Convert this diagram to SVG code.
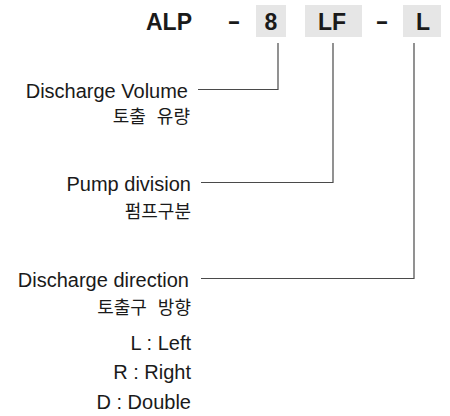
<svg xmlns="http://www.w3.org/2000/svg" width="450" height="416" viewBox="0 0 450 416">
<style>
.hd{font-family:"Liberation Sans",Arial,sans-serif;font-weight:bold;font-size:23px;fill:#1a1a1a}
.box{fill:#e6e6e6}
.en{font-family:"Liberation Sans",Arial,sans-serif;font-size:20px;fill:#1a1a1a;text-anchor:end}
.ko{font-family:"Liberation Sans","Noto Sans CJK KR",sans-serif;font-size:18px;fill:#1a1a1a;text-anchor:end;word-spacing:6px}
.ln{fill:none;stroke:#4a4a4a;stroke-width:1.2}
</style>
<rect width="450" height="416" fill="#fff"/>
<g id="code">
<rect class="box" x="256" y="5" width="30" height="32"/>
<rect class="box" x="305" y="5" width="57" height="32"/>
<rect class="box" x="403" y="5" width="38" height="32"/>
<text class="hd" x="146" y="29.5">ALP</text>
<text class="hd" x="0" y="29.5" text-anchor="middle" transform="translate(234,0) scale(1.7,1)">-</text>
<text class="hd" x="271" y="29.5" text-anchor="middle">8</text>
<text class="hd" x="332" y="29.5" text-anchor="middle">LF</text>
<text class="hd" x="0" y="29.5" text-anchor="middle" transform="translate(382,0) scale(1.7,1)">-</text>
<text class="hd" x="423" y="29.5" text-anchor="middle">L</text>
</g>
<g id="connectors">
<path class="ln" d="M278,43 V89.5 H198"/>
<path class="ln" d="M333,43 V182.5 H201"/>
<path class="ln" d="M414,43 V278.5 H201"/>
</g>
<g id="volume">
<text class="en" x="188" y="97.5">Discharge Volume</text>
<text class="ko" x="190" y="123">토출 유량</text>
</g>
<g id="division">
<text class="en" x="191" y="191">Pump division</text>
<text class="ko" x="191" y="218">펌프구분</text>
</g>
<g id="direction">
<text class="en" x="189" y="287">Discharge direction</text>
<text class="ko" x="191" y="314">토출구 방향</text>
<text class="en" x="191" y="350">L : Left</text>
<text class="en" x="191" y="379">R : Right</text>
<text class="en" x="191" y="409">D : Double</text>
</g>
</svg>
